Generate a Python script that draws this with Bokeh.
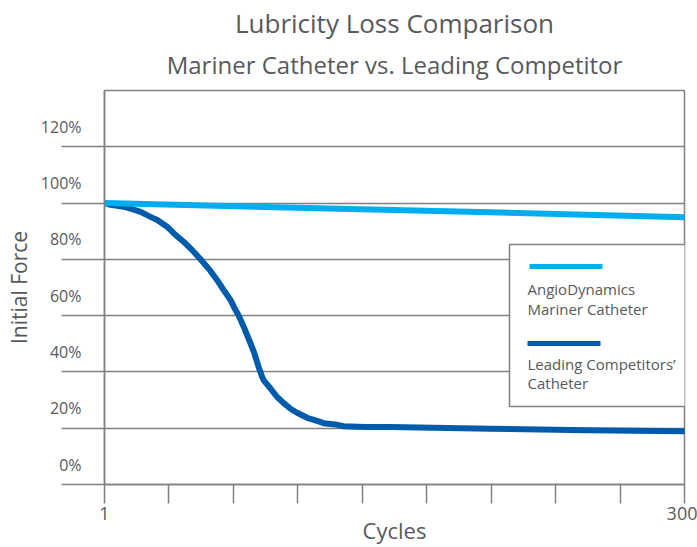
from bokeh.plotting import figure
from bokeh.models import (FixedTicker, Label, BoxAnnotation, Range1d, LinearAxis,
                          Title)
from bokeh.embed import file_html
from bokeh.resources import INLINE

FONT = "Open Sans"
TEXT = "#58595b"
GRID = "#808080"
LIGHT = "#00aeef"
DARK = "#005baa"

# ---- data ----
title_text = "Lubricity Loss Comparison"
subtitle_text = "Mariner Catheter vs. Leading Competitor"
x_label = "Cycles"
y_label = "Initial Force"

mariner_cycles = [1, 100, 200, 300]
mariner_force = [100, 98.3, 96.7, 95.0]

comp_cycles = [1, 4.1, 10.9, 14.4, 19.6, 24.7, 28.2, 33.3, 36.8, 41.9, 45.3, 47,
               50.5, 55.6, 59.1, 62.5, 66, 67.7, 70.2, 72.8, 76.3, 78, 80.5, 82.3,
               83.1, 86.6, 90, 93.4, 96.9, 100.3, 105.5, 110.6, 114, 121, 124.4,
               131.3, 136.4, 148.4, 200, 250, 300]
comp_force = [100, 99.4, 98.7, 98, 96.9, 95.1, 94, 91.6, 89.2, 86.2, 83.9, 82.7,
              80, 75.9, 72.6, 69, 65.5, 63.1, 60, 56, 50.1, 47.1, 41.7, 38.2,
              37, 34.1, 31.1, 28.9, 26.9, 25.5, 23.7, 22.6, 21.8, 21.2, 20.7,
              20.5, 20.4, 20.4, 19.8, 19.3, 18.9]

y_ticks = [0, 20, 40, 60, 80, 100, 120]
y_tick_labels = ["0%", "20%", "40%", "60%", "80%", "100%", "120%"]
x_start, x_end = 1, 300
x_ticks = [x_start + i * (x_end - x_start) / 9 for i in range(10)]
series_names = ["AngioDynamics\nMariner Catheter", "Leading Competitors\u2019\nCatheter"]

Y_MAX = 140
FRAME_H = 394          # frame height in px (min borders below fix it)
LABEL_RAISE_PX = 20    # the reference prints each % label above its grid line

p = figure(width=697, height=547, x_range=Range1d(x_start, x_end),
           y_range=Range1d(0, Y_MAX), output_backend="svg", toolbar_location=None,
           min_border_left=104, min_border_right=13, min_border_top=90,
           min_border_bottom=63)
p.background_fill_color = "white"
p.border_fill_color = "white"
p.outline_line_color = GRID
p.outline_line_width = 1.5
p.outline_line_alpha = 1

# titles
p.add_layout(Title(text=subtitle_text, align="center", text_font=FONT,
                   text_font_size="24px", text_color=TEXT, text_font_style="normal",
                   vertical_align="top", standoff=15), "above")
p.add_layout(Title(text=title_text, align="center", text_font=FONT,
                   text_font_size="26px", text_color=TEXT, text_font_style="normal",
                   vertical_align="bottom", standoff=0), "above")

# grid
p.xgrid.visible = False
p.ygrid.ticker = FixedTicker(ticks=y_ticks)
p.ygrid.grid_line_color = GRID
p.ygrid.grid_line_width = 1.5

# y axis: long outward ticks at the grid lines, no labels
ya = p.yaxis[0]
ya.ticker = FixedTicker(ticks=y_ticks)
ya.major_label_overrides = {v: "" for v in y_ticks}
ya.major_label_standoff = 0
ya.major_tick_out = 43
ya.major_tick_in = 0
ya.minor_tick_line_color = None
ya.major_tick_line_color = GRID
ya.major_tick_line_width = 1.5
ya.axis_line_color = GRID
ya.axis_line_width = 1.5

# second left axis: the % labels, raised above their grid lines, and the title
shift = LABEL_RAISE_PX * Y_MAX / FRAME_H
lab_ticks = [v + shift for v in y_ticks]
yb = LinearAxis(ticker=FixedTicker(ticks=lab_ticks),
                major_label_overrides=dict(zip(lab_ticks, y_tick_labels)),
                major_tick_out=0, major_tick_in=0, minor_tick_out=0, minor_tick_in=0,
                major_tick_line_color=None, minor_tick_line_color=None,
                axis_line_color=None, major_label_standoff=-20,
                major_label_text_font=FONT, major_label_text_font_size="16px",
                major_label_text_color=TEXT,
                axis_label=y_label, axis_label_text_font=FONT,
                axis_label_text_font_size="21px", axis_label_text_font_style="normal",
                axis_label_text_color=TEXT, axis_label_standoff=5)
p.add_layout(yb, "left")

# x axis
xa = p.xaxis[0]
xa.ticker = FixedTicker(ticks=x_ticks)
overrides = {v: "" for v in x_ticks[1:-1]}
overrides[x_ticks[0]] = str(x_start)
overrides[x_ticks[-1]] = str(x_end)
xa.major_label_overrides = overrides
xa.major_tick_out = 19
xa.major_tick_in = 0
xa.minor_tick_line_color = None
xa.major_tick_line_color = GRID
xa.major_tick_line_width = 1.5
xa.axis_line_color = GRID
xa.axis_line_width = 1.5
xa.major_label_standoff = 3
xa.major_label_text_font = FONT
xa.major_label_text_font_size = "18px"
xa.major_label_text_color = TEXT
xa.axis_label = x_label
xa.axis_label_text_font = FONT
xa.axis_label_text_font_size = "22px"
xa.axis_label_text_font_style = "normal"
xa.axis_label_text_color = TEXT
xa.axis_label_standoff = -8

# series
p.line(comp_cycles, comp_force, line_width=6, line_color=DARK, line_join="round",
       line_cap="round")
p.line(mariner_cycles, mariner_force, line_width=6, line_color=LIGHT,
       line_join="round", line_cap="round")

# legend (glyph above label), screen units relative to frame
def box(l, r, b, t, **kw):
    p.add_layout(BoxAnnotation(left=l, right=r, bottom=b, top=t,
                               left_units="screen", right_units="screen",
                               bottom_units="screen", top_units="screen", **kw))

box(405, 600, 78, 240, fill_color="white", fill_alpha=1, line_color=GRID,
    line_width=1.5, line_alpha=1)
box(425, 498, 215.5, 220.5, fill_color=LIGHT, fill_alpha=1, line_color=None)
box(423, 496, 138.5, 143.5, fill_color=DARK, fill_alpha=1, line_color=None)
leg_lines = series_names[0].split("\n") + series_names[1].split("\n")
leg_y = [196, 176, 121, 102]
for t, yy in zip(leg_lines, leg_y):
    p.add_layout(Label(x=423, y=yy, x_units="screen", y_units="screen", text=t,
                       text_font=FONT, text_color=TEXT, text_font_size="15px",
                       text_align="left", text_baseline="middle"))

open("out.html", "w").write(file_html(p, INLINE))
